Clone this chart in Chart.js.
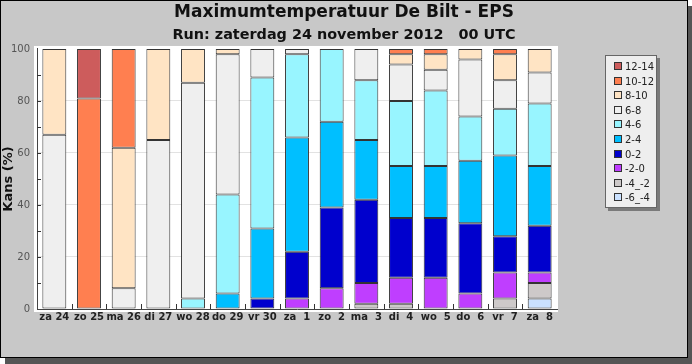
<!DOCTYPE html>
<html>
<head>
<meta charset="utf-8">
<script src="https://cdn.jsdelivr.net/npm/chart.js@4/dist/chart.umd.min.js"></script>
<style>
  html, body { margin: 0; padding: 0; background: #fff; }
  #frame {
    position: absolute; left: 0; top: 0;
    width: 686px; height: 356px;
    background: #c8c8c8;
    border: 1px solid #000;
    box-shadow: 5px 6px 0 #555;
  }
  #chart { display: block; }
</style>
</head>
<body>
<div id="frame"><canvas id="chart" width="686" height="356"></canvas></div>
<script>
'use strict';

var days = ['za 24', 'zo 25', 'ma 26', 'di 27', 'wo 28', 'do 29', 'vr 30',
  'za  1', 'zo  2', 'ma  3', 'di  4', 'wo  5', 'do  6', 'vr  7', 'za  8'];

// kans (%) per temperatuurklasse, van laag naar hoog
var classM6M4 = [0, 0, 0, 0, 0, 0, 0, 0, 0, 0, 0, 0, 0, 0, 4];
var classM4M2 = [0, 0, 0, 0, 0, 0, 0, 0, 0, 2, 2, 0, 0, 4, 6];
var classM2P0 = [0, 0, 0, 0, 0, 0, 0, 4, 8, 8, 10, 12, 6, 10, 4];
var classP0P2 = [0, 0, 0, 0, 0, 0, 4, 18, 31, 32, 23, 23, 27, 14, 18];
var classP2P4 = [0, 0, 0, 0, 0, 6, 27, 44, 33, 23, 20, 20, 24, 31, 23];
var classP4P6 = [0, 0, 0, 0, 4, 38, 58, 32, 28, 23, 25, 29, 17, 18, 24];
var classP6P8 = [67, 0, 8, 65, 83, 54, 11, 2, 0, 12, 14, 8, 22, 11, 12];
var classP8P10 = [33, 0, 54, 35, 13, 2, 0, 0, 0, 0, 4, 6, 4, 10, 9];
var classP10P12 = [0, 81, 38, 0, 0, 0, 0, 0, 0, 0, 2, 2, 0, 2, 0];
var classP12P14 = [0, 19, 0, 0, 0, 0, 0, 0, 0, 0, 0, 0, 0, 0, 0];

var classLabels = ['-6_-4', '-4_-2', '-2-0', '0-2', '2-4', '4-6', '6-8', '8-10', '10-12', '12-14'];
var classValues = [classM6M4, classM4M2, classM2P0, classP0P2, classP2P4, classP4P6, classP6P8, classP8P10, classP10P12, classP12P14];
var classColors = ['#cae1ff', '#cdc9c9', '#bf3eff', '#0000cd', '#00bfff', '#98f5ff', '#efefef', '#ffe4c4', '#ff7f50', '#cd5c5c'];

var yTicks = [0, 20, 40, 60, 80, 100];

var FONT = 'DejaVu Sans';

var plotBackground = {
  id: 'plotBackground',
  beforeDraw: function(chart) {
    var a = chart.chartArea, ctx = chart.ctx;
    ctx.save();
    ctx.fillStyle = '#ffffff';
    ctx.fillRect(a.left - 3, a.top - 3, a.right - a.left + 4, a.bottom - a.top + 6);
    ctx.restore();
  }
};

// korte streepjes naar binnen op beide assen
var innerTicks = {
  id: 'innerTicks',
  afterDatasetsDraw: function(chart) {
    var a = chart.chartArea, ctx = chart.ctx;
    var y = chart.scales.y, x = chart.scales.x;
    ctx.save();
    ctx.strokeStyle = '#333';
    ctx.lineWidth = 1;
    ctx.beginPath();
    for (var v = 10; v < 100; v += 10) {
      var py = Math.round(y.getPixelForValue(v)) + 0.5;
      ctx.moveTo(a.left, py);
      ctx.lineTo(a.left + 4, py);
    }
    for (var i = 1; i < days.length; i++) {
      var px = Math.round((x.getPixelForValue(i - 1) + x.getPixelForValue(i)) / 2) + 0.5;
      ctx.moveTo(px, a.bottom);
      ctx.lineTo(px, a.bottom - 5);
    }
    ctx.stroke();
    ctx.restore();
  }
};

var boxLegend = {
  id: 'boxLegend',
  afterDraw: function(chart) {
    var ctx = chart.ctx;
    var bx = 604, by = 54, bw = 52, bh = 153;
    ctx.save();
    ctx.fillStyle = '#7a7a7a';
    ctx.fillRect(bx + 3, by + 3, bw, bh);
    ctx.fillStyle = '#eeeeee';
    ctx.fillRect(bx, by, bw, bh);
    ctx.strokeStyle = '#666';
    ctx.lineWidth = 1;
    ctx.strokeRect(bx + 0.5, by + 0.5, bw - 1, bh - 1);
    ctx.font = '10px "' + FONT + '"';
    ctx.textBaseline = 'middle';
    var ds = chart.data.datasets;
    for (var i = 0; i < ds.length; i++) {
      var d = ds[ds.length - 1 - i];
      var cy = Math.round(by + 11 + i * 14.6);
      ctx.fillStyle = d.backgroundColor;
      ctx.fillRect(613, cy - 4, 8, 8);
      ctx.strokeStyle = '#333';
      ctx.strokeRect(613.5, cy - 3.5, 7, 7);
      ctx.fillStyle = '#222';
      ctx.fillText(d.label, 624, cy + 1);
    }
    ctx.restore();
  }
};

var datasets = classLabels.map(function(lbl, i) {
  return {
    label: lbl,
    data: classValues[i],
    backgroundColor: classColors[i],
    borderColor: '#333',
    borderWidth: 1,
    borderSkipped: false
  };
});

new Chart(document.getElementById('chart'), {
  type: 'bar',
  data: { labels: days, datasets: datasets },
  options: {
    responsive: false,
    animation: false,
    categoryPercentage: 1,
    barPercentage: 0.69,
    layout: { padding: { left: 0, right: 0, top: 0, bottom: 28 } },
    plugins: {
      legend: { display: false },
      tooltip: { enabled: false },
      title: {
        display: true,
        text: 'Maximumtemperatuur De Bilt - EPS',
        color: '#111',
        font: { family: FONT, size: 17, weight: 'bold' },
        padding: { top: 1.5, bottom: 3.5 }
      },
      subtitle: {
        display: true,
        text: 'Run: zaterdag 24 november 2012   00 UTC',
        color: '#111',
        font: { family: FONT, size: 14.4, weight: 'bold' },
        padding: { top: 0, bottom: 5.3 }
      }
    },
    scales: {
      x: {
        stacked: true,
        grid: { display: false, drawTicks: false },
        border: { display: true, color: '#444' },
        ticks: { color: '#222', padding: 2, autoSkip: false, maxRotation: 0, font: { family: FONT, size: 10, weight: 'bold' } },
        afterFit: function(s) { s.height = 20; }
      },
      y: {
        stacked: true,
        min: 0,
        max: 100,
        afterBuildTicks: function(s) { s.ticks = yTicks.map(function(v) { return { value: v }; }); },
        grid: {
          drawTicks: false,
          color: function(c) { return (c.tick && c.tick.value > 0 && c.tick.value < 100) ? '#e2e2e2' : 'rgba(0,0,0,0)'; }
        },
        border: { display: true, color: '#444' },
        ticks: { color: '#555', padding: 7, font: { family: FONT, size: 10 } },
        title: {
          display: true,
          text: 'Kans (%)',
          color: '#111',
          padding: { top: 0, bottom: 0 },
          font: { family: FONT, size: 13, weight: 'bold' }
        },
        afterFit: function(s) { s.width = 36; }
      },
      // lege as rechts: ruimte voor de legenda, zodat de titel over de hele breedte centreert
      legendSpace: {
        type: 'linear',
        position: 'right',
        grid: { display: false, drawTicks: false },
        border: { display: false },
        ticks: { display: false },
        afterFit: function(s) { s.width = 130; }
      }
    }
  },
  plugins: [plotBackground, innerTicks, boxLegend]
});
</script>
</body>
</html>
